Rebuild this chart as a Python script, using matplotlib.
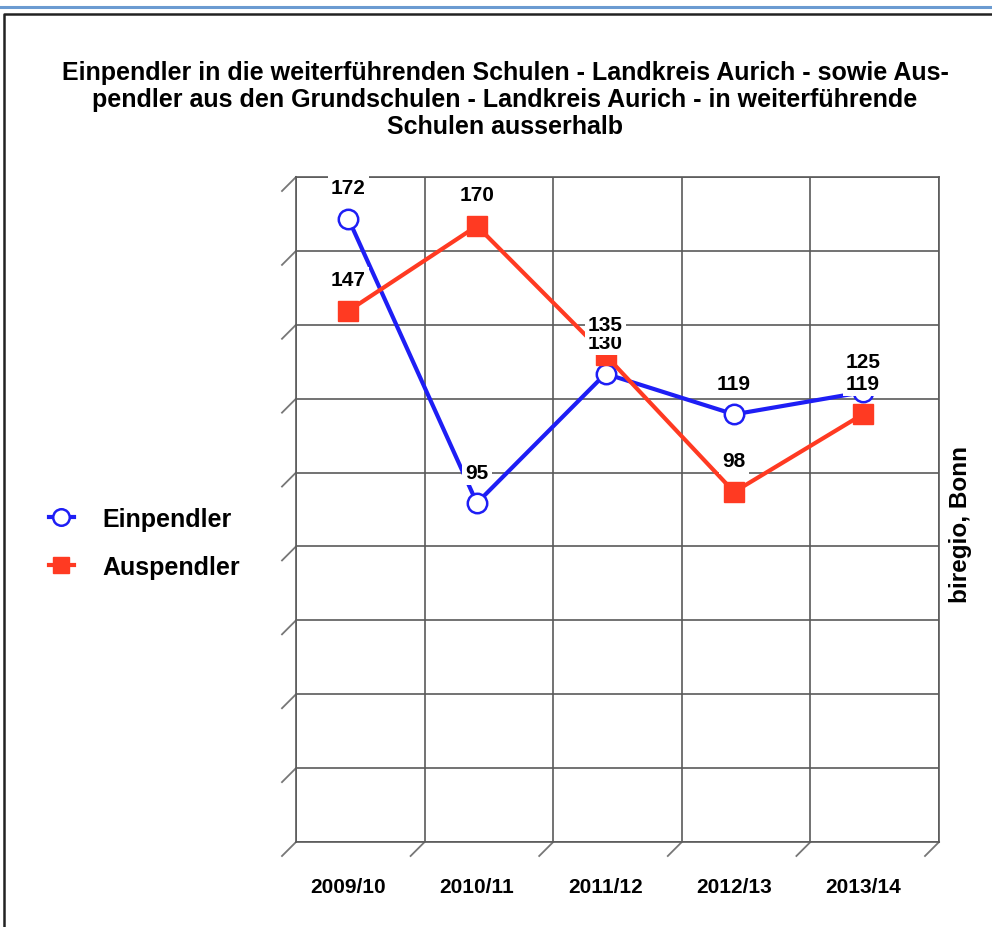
import matplotlib
matplotlib.use("Agg")
import matplotlib.pyplot as plt
from matplotlib.lines import Line2D
from matplotlib.transforms import offset_copy

plt.rcParams['font.family'] = ['Liberation Sans', 'DejaVu Sans']
plt.rcParams['font.weight'] = 'bold'

years = ['2009/10', '2010/11', '2011/12', '2012/13', '2013/14']
einpendler = [172, 95, 130, 119, 125]
auspendler = [147, 170, 135, 98, 119]

title = ("Einpendler in die weiterführenden Schulen - Landkreis Aurich - sowie Aus-\n"
         "pendler aus den Grundschulen - Landkreis Aurich - in weiterführende\n"
         "Schulen ausserhalb")

blue = '#1e1ef5'
red = '#ff3a22'
grid_c = '#5a5a5a'

fig = plt.figure(figsize=(9.92, 9.28), dpi=100)
ax = fig.add_axes([296 / 992, 85 / 928, 643 / 992, 665 / 928])
ax.set_xlim(-0.5, 4.5)
ax.set_ylim(0, 180)
ax.set_xticks([i - 0.5 for i in range(6)])
ax.set_yticks(range(0, 181, 20))
ax.tick_params(length=0, labelbottom=False, labelleft=False)
ax.grid(True, color=grid_c, lw=1.2)
for s in ax.spines.values():
    s.set_color(grid_c)
    s.set_linewidth(1.2)

# front plane is shifted down-left against the back wall
front = offset_copy(ax.transData, fig=fig, x=-12, y=-12, units='dots')
xs = list(range(len(years)))

l1, = ax.plot(xs, einpendler, color=blue, lw=3, marker='o', ms=14,
              mfc='white', mec=blue, mew=1.8, transform=front, zorder=3,
              clip_on=False, label='Einpendler')
l2, = ax.plot(xs, auspendler, color=red, lw=3, marker='s', ms=14,
              mfc=red, mec=red, transform=front, zorder=4,
              clip_on=False, label='Auspendler')

for vals, z in ((einpendler, 5), (auspendler, 6)):
    for x, v in zip(xs, vals):
        ax.annotate(str(v), (x, v), xycoords=front, xytext=(0, 31),
                    textcoords='offset pixels', ha='center', va='center',
                    fontsize=15, zorder=z,
                    bbox=dict(boxstyle='square,pad=0.15', fc='white', ec='none'))

# slanted depth ticks
px_x = ax.bbox.width / 5
px_y = ax.bbox.height / 180
dx, dy = 14 / px_x, 14 / px_y
for v in range(0, 181, 20):
    ax.plot([-0.5, -0.5 - dx], [v, v - dy], color='#777777', lw=1.3,
            clip_on=False, zorder=2)
for i in range(1, 6):
    ax.plot([i - 0.5, i - 0.5 - dx], [0, -dy], color='#777777', lw=1.3,
            clip_on=False, zorder=2)

for x, lab in zip(xs, years):
    ax.text(x, 0, lab, transform=offset_copy(ax.transData, fig=fig, x=-12, y=-45, units='dots'),
            ha='center', va='center', fontsize=15)

fig.text(505 / 992, 1 - 100 / 928, title, ha='center', va='center',
         fontsize=18, linespacing=1.17)
fig.text(960 / 992, 1 - 525 / 928, 'biregio, Bonn', rotation=90,
         ha='center', va='center', fontsize=17.5)

fig.legend(handles=[l1, l2], loc='center left',
           bbox_to_anchor=(26 / 992, 1 - 544 / 928), frameon=False,
           fontsize=18, handlelength=1.0, handletextpad=1.15,
           labelspacing=0.95, markerscale=0.85)

# page frame
fig.add_artist(Line2D([0, 1], [1 - 8 / 928] * 2, color='#6b9bd1', lw=2.2))
fig.add_artist(Line2D([4 / 992, 4 / 992, 1], [0, 1 - 15 / 928, 1 - 15 / 928],
                      color='#222222', lw=1.8))

fig.savefig('out.png', dpi=100)
